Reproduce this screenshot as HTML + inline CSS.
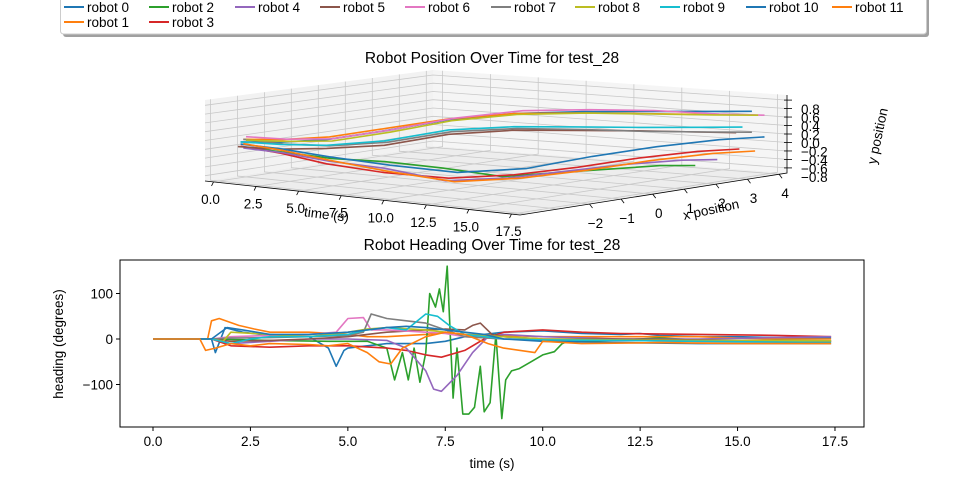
<!DOCTYPE html>
<html><head><meta charset="utf-8">
<style>
html,body{margin:0;padding:0;background:#fff;}
svg{display:block;font-family:"Liberation Sans","DejaVu Sans",sans-serif;}
</style></head>
<body>
<svg id="fig" width="960" height="480" viewBox="0 0 960 480" xmlns="http://www.w3.org/2000/svg">
  <g id="legend"></g>
  <text x="492" y="63" font-size="15.5" text-anchor="middle">Robot Position Over Time for test_28</text>
  <g id="plot3d"></g>
  <text x="492" y="250" font-size="15.5" text-anchor="middle">Robot Heading Over Time for test_28</text>
  <g id="plot2d"></g>
</svg>
<script>
// ---------- shared ----------
const robotNames = ["robot 0","robot 1","robot 2","robot 3","robot 4","robot 5","robot 6","robot 7","robot 8","robot 9","robot 10","robot 11"];
const robotColors = ["#1f77b4","#ff7f0e","#2ca02c","#d62728","#9467bd","#8c564b","#e377c2","#7f7f7f","#bcbd22","#17becf","#1f77b4","#ff7f0e"];

// ---------- heading data ----------
const hT0 = [0,1.5,1.6,1.85,2.3,3,4,4.5,4.7,4.9,5.0,5.5,6,7,7.5,8,8.5,9,10,11,12,12.5,13,14,15,16,17.4];
const hV0 = [0,0,-30,25,15,8,5,-20,-60,-25,-20,-15,-10,-10,-5,5,10,15,18,12,10,12,8,5,5,3,2];
const hT1 = [0,1.4,1.5,1.7,2.2,2.6,3,4,5,5.5,6,7,7.5,8,9,10,12,14,15,16,17.4];
const hV1 = [0,0,40,45,30,22,15,15,10,5,5,10,15,10,8,5,5,5,2,0,0];
const hT2 = [0,1.5,3,4.5,5.5,6.0,6.2,6.4,6.55,6.7,6.85,7.0,7.1,7.25,7.35,7.45,7.55,7.7,7.8,7.95,8.1,8.25,8.4,8.5,8.65,8.8,8.95,9.05,9.2,9.4,9.7,10.0,10.3,10.5,10.7,11,12,13,14,15,16,17.4];
const hV2 = [0,0,-3,-5,-5,-20,-90,-30,-90,-20,-95,-30,100,70,110,60,160,-130,-20,-165,-165,-150,-60,-160,-140,10,-175,-90,-70,-65,-50,-35,-28,-10,-3,-5,-2,2,-2,-5,-3,-4];
const hT3 = [0,1.5,2,3,4,5,6,6.5,7,7.4,8,8.5,9,10,11,12,14,16,17.4];
const hV3 = [0,0,-15,-18,-15,-15,-20,-25,-35,-40,-25,0,15,20,15,12,10,8,5];
const hT4 = [0,1.5,2,3,4,5,6,6.5,7,7.2,7.4,7.8,8.2,8.6,9,10,12,14,16,17.4];
const hV4 = [0,0,-10,-5,0,0,-3,-20,-70,-110,-115,-80,-30,5,10,5,0,0,3,5];
const hT5 = [0,1.5,2,3,4,5,5.5,6,7,7.5,8,8.2,8.4,8.7,9,10,12,14,17.4];
const hV5 = [0,0,-5,-3,0,5,10,15,20,22,20,30,35,10,5,0,0,-2,-5];
const hT6 = [0,1.5,2,3,4,4.7,5,5.4,5.6,6,7,7.5,8,9,10,12,14,16,16.8,17.4];
const hV6 = [0,0,5,8,10,15,45,47,20,20,15,12,5,0,0,-3,-5,-5,-10,-5];
const hT7 = [0,1.5,2,3,4,5,5.4,5.6,6,6.5,7,7.5,8,9,10,12,14,17.4];
const hV7 = [0,0,2,3,5,8,15,55,45,40,35,20,5,0,-2,-3,-5,-5];
const hT8 = [0,1.5,1.8,2,3,4,5,5.5,6,7,7.5,8,9,10,12,14,17.4];
const hV8 = [0,0,-5,15,10,5,15,22,25,20,15,10,5,0,-2,-3,-4];
const hT9 = [0,1.5,2,2.5,3,4,5,5.5,6,6.5,7,7.3,7.6,8,8.5,9,10,12,14,17.4];
const hV9 = [0,0,-10,0,5,5,10,20,25,20,55,50,30,10,5,0,-2,-3,-5,-8];
const hT10 = [0,1.5,1.9,2.3,3,4,5,6,6.5,7,7.5,8,8.5,9,10,12,14,17.4];
const hV10 = [0,0,25,20,10,10,15,25,28,25,20,15,10,0,-5,-8,-10,-10];
const hT11 = [0,1.2,1.35,1.6,2,2.5,3,4,4.5,5,5.5,5.8,6.1,6.4,7,7.5,8,8.6,9,9.8,10,11,13,15,17.4];
const hV11 = [0,0,-25,-20,-10,-15,-10,-12,-15,-10,-30,-50,-55,-20,5,15,10,-10,-20,-30,-5,-10,-8,-10,-10];
const headingTimes = [hT0,hT1,hT2,hT3,hT4,hT5,hT6,hT7,hT8,hT9,hT10,hT11];
const headingVals = [hV0,hV1,hV2,hV3,hV4,hV5,hV6,hV7,hV8,hV9,hV10,hV11];
const headingXTicks = [0,2.5,5,7.5,10,12.5,15,17.5];
const headingXTickLabels = ["0.0","2.5","5.0","7.5","10.0","12.5","15.0","17.5"];
const headingYTicks = [-100,0,100];
const headingYTickLabels = ["\u2212100","0","100"];

// ---------- 3D position data ----------
const posTimes = [0,2,4,6,8,10,12,14,16,17.4];
const pX0 = [-3.2,-3,-2.6,-1.8,-0.8,0.2,1.2,2,2.9,3.5];
const pX1 = [-3.1,-2.9,-2.5,-1.7,-0.8,0.2,1.1,1.9,2.6,3.1];
const pX2 = [-3.0,-2.8,-2.4,-1.8,-1.0,-0.2,0.4,0.9,1.4,1.7];
const pX3 = [-3.2,-3,-2.6,-1.8,-0.8,0.2,1.1,1.9,2.6,3.1];
const pX4 = [-3.1,-2.9,-2.5,-1.8,-0.9,0,0.8,1.5,2.1,2.4];
const pX5 = [-3.3,-3.1,-2.6,-1.8,-0.8,0.2,1.1,1.9,2.6,3.0];
const pX6 = [-3.0,-2.8,-2.4,-1.6,-0.6,0.5,1.5,2.4,3.3,3.9];
const pX7 = [-3.1,-2.9,-2.5,-1.7,-0.7,0.3,1.3,2.1,2.9,3.5];
const pX8 = [-3.0,-2.8,-2.4,-1.6,-0.7,0.3,1.4,2.3,3.1,3.7];
const pX9 = [-3.2,-3,-2.6,-1.8,-0.8,0.2,1.1,1.9,2.7,3.2];
const pX10 = [-3.2,-3,-2.5,-1.6,-0.5,0.6,1.6,2.5,3.3,3.9];
const pX11 = [-3.1,-2.9,-2.4,-1.6,-0.6,0.4,1.4,2.3,3.1,3.6];
const pZ0 = [-0.1,-0.05,0.05,0.25,0.48,0.6,0.62,0.62,0.6,0.59];
const pZ1 = [-0.05,0,0.1,0.3,0.5,0.6,0.6,0.58,0.56,0.55];
const pZ2 = [-0.25,-0.3,-0.4,-0.45,-0.6,-0.8,-0.7,-0.6,-0.5,-0.48];
const pZ3 = [-0.2,-0.3,-0.5,-0.7,-0.85,-0.8,-0.65,-0.45,-0.3,-0.25];
const pZ4 = [-0.25,-0.3,-0.45,-0.6,-0.9,-0.85,-0.7,-0.55,-0.45,-0.42];
const pZ5 = [-0.2,-0.2,-0.15,-0.08,0.15,0.22,0.2,0.18,0.15,0.14];
const pZ6 = [0,0,0.05,0.25,0.5,0.64,0.64,0.6,0.5,0.46];
const pZ7 = [-0.05,-0.1,-0.1,-0.02,0.2,0.25,0.2,0.15,0.12,0.1];
const pZ8 = [-0.08,-0.05,0.0,0.2,0.45,0.57,0.57,0.53,0.5,0.48];
const pZ9 = [-0.1,-0.1,-0.08,0.02,0.25,0.3,0.28,0.26,0.25,0.25];
const pZ10 = [-0.15,-0.2,-0.35,-0.55,-0.75,-0.7,-0.45,-0.25,-0.1,-0.05];
const pZ11 = [-0.15,-0.25,-0.45,-0.7,-0.95,-0.9,-0.75,-0.55,-0.4,-0.35];
const posX = [pX0,pX1,pX2,pX3,pX4,pX5,pX6,pX7,pX8,pX9,pX10,pX11];
const posZ = [pZ0,pZ1,pZ2,pZ3,pZ4,pZ5,pZ6,pZ7,pZ8,pZ9,pZ10,pZ11];
const tTicks = [0,2.5,5,7.5,10,12.5,15,17.5];
const tTickLabels = ["0.0","2.5","5.0","7.5","10.0","12.5","15.0","17.5"];
const xTicks = [-2,-1,0,1,2,3,4];
const xTickLabels = ["\u22122","\u22121","0","1","2","3","4"];
const xGrid = [-4,-3,-2,-1,0,1,2,3,4];
const zTicks = [-0.8,-0.6,-0.4,-0.2,0,0.2,0.4,0.6,0.8];
const zTickLabels = ["\u22120.8","\u22120.6","\u22120.4","\u22120.2","0.0","0.2","0.4","0.6","0.8"];

const NS = "http://www.w3.org/2000/svg";
function mk(tag, attrs, parent, txt){
  const e = document.createElementNS(NS, tag);
  for (const k in attrs) e.setAttribute(k, attrs[k]);
  if (txt !== undefined) e.textContent = txt;
  parent.appendChild(e);
  return e;
}

// ---------- legend ----------
(function(){
  const g = document.getElementById('legend');
  const sh = mk('rect',{x:63,y:-6,width:866,height:43,rx:3,fill:'#a0a0a0'},g);
  
  
  const box = mk('rect',{x:60.5,y:-8,width:866,height:42,rx:3,fill:'#fff',stroke:'#cccccc'},g);
  
  
  const colX = [64,149,235,320,405,491,575,660,746,832];
  const order = [[0,0],[2,1],[4,2],[5,3],[6,4],[7,5],[8,6],[9,7],[10,8],[11,9],[1,0],[3,1]];
  order.forEach((o,i)=>{
    const r = o[0], c = o[1], row = i<10?0:1;
    const y = row===0?7:22;
    const eg = mk('g',{},g);
    
    
    mk('line',{x1:colX[c],x2:colX[c]+20,y1:y,y2:y,stroke:robotColors[r],'stroke-width':2},eg);
    mk('text',{x:colX[c]+23,y:y+5,'font-size':13.5,fill:'#000'},eg,robotNames[r]);
  });
})();

// ---------- 3D plot ----------
(function(){
  const g = document.getElementById('plot3d');
  const T0=-0.5,T1=18.0,X0=-4.2,X1=4.25,Z0=-0.92,Z1=0.92;
  const A=[205,181],B=[520,215],C=[787,173],D=[433,146];
  const hA=81,hB=86,hC=78,hD=76;
  function P(t,x,z){
    const u=(t-T0)/(T1-T0), v=(x-X0)/(X1-X0);
    const sx=(1-u)*(1-v)*A[0]+u*(1-v)*B[0]+u*v*C[0]+(1-u)*v*D[0];
    const sy=(1-u)*(1-v)*A[1]+u*(1-v)*B[1]+u*v*C[1]+(1-u)*v*D[1];
    const h=(1-u)*(1-v)*hA+u*(1-v)*hB+u*v*hC+(1-u)*v*hD;
    return [sx, sy-(z-Z0)/(Z1-Z0)*h];
  }
  function pts(arr){return arr.map(p=>p[0].toFixed(1)+','+p[1].toFixed(1)).join(' ');}
  const floor = mk('polygon',{points:pts([P(T0,X0,Z0),P(T1,X0,Z0),P(T1,X1,Z0),P(T0,X1,Z0)]),fill:'#ededed'},g);
  
  
  const lw = mk('polygon',{points:pts([P(T0,X0,Z0),P(T0,X1,Z0),P(T0,X1,Z1),P(T0,X0,Z1)]),fill:'#f2f2f2'},g);
  
  
  const rw = mk('polygon',{points:pts([P(T0,X1,Z0),P(T1,X1,Z0),P(T1,X1,Z1),P(T0,X1,Z1)]),fill:'#f5f5f5'},g);
  
  
  const grid = mk('g',{stroke:'#c8c8c8','stroke-width':0.8,fill:'none'},g);
  
  
  tTicks.forEach(t=>{
    mk('polyline',{points:pts([P(t,X0,Z0),P(t,X1,Z0),P(t,X1,Z1)])},grid);
  });
  xGrid.forEach(x=>{
    mk('polyline',{points:pts([P(T1,x,Z0),P(T0,x,Z0),P(T0,x,Z1)])},grid);
  });
  zTicks.forEach(z=>{
    mk('polyline',{points:pts([P(T0,X0,z),P(T0,X1,z),P(T1,X1,z)])},grid);
  });
  const ax = mk('g',{stroke:'#000','stroke-width':0.8,fill:'none'},g);
  
  
  mk('polyline',{points:pts([P(T0,X0,Z0),P(T1,X0,Z0),P(T1,X1,Z0),P(T1,X1,Z1)])},ax);
  tTicks.forEach((t,i)=>{
    const p=P(t,X0,Z0);
    mk('line',{x1:p[0],y1:p[1],x2:p[0]-2,y2:p[1]+4},ax);
    const lab = mk('text',{x:p[0]-3,y:p[1]+22,'font-size':13.5,'text-anchor':'middle',fill:'#000',stroke:'none'},g,tTickLabels[i]);
    
    
  });
  xTicks.forEach((x,i)=>{
    const p=P(T1,x,Z0);
    mk('line',{x1:p[0],y1:p[1],x2:p[0]+3,y2:p[1]+4},ax);
    const lab = mk('text',{x:p[0]+6,y:p[1]+24,'font-size':13.5,'text-anchor':'middle',fill:'#000',stroke:'none'},g,xTickLabels[i]);
    
    
  });
  zTicks.forEach((z,i)=>{
    const p=P(T1,X1,z);
    mk('line',{x1:p[0]-3,y1:p[1],x2:p[0]+5,y2:p[1]},ax);
    const lab = mk('text',{x:p[0]+14,y:p[1]+14,'font-size':13.5,'text-anchor':'start',fill:'#000',stroke:'none'},g,zTickLabels[i]);
    
    
  });
  const tl = mk('text',{x:0,y:0,'font-size':13.5,'text-anchor':'middle',transform:'translate(326,219) rotate(7)'},g,'time (s)');
  
  
  const xl = mk('text',{x:0,y:0,'font-size':13.5,'text-anchor':'middle',transform:'translate(712,214) rotate(-12)'},g,'x position');
  
  
  const yl = mk('text',{x:0,y:0,'font-size':13.5,'text-anchor':'middle',transform:'translate(882,137) rotate(-78)'},g,'y position');
  
  
  posX.forEach((xs,r)=>{
    const p = posTimes.map((t,i)=>P(t,xs[i],posZ[r][i]));
    const pl = mk('polyline',{points:pts(p),fill:'none',stroke:robotColors[r],'stroke-width':1.6,'stroke-linejoin':'round'},g);
    
    
  });
})();

// ---------- 2D heading plot ----------
(function(){
  const g = document.getElementById('plot2d');
  const L=120,R=864,T=260,Bt=427;
  const xs = t => 153 + t*38.97;
  const ys = v => 339 - v*0.455;
  const clip = mk('clipPath',{id:'hclip'},g);
  mk('rect',{x:L,y:T,width:R-L,height:Bt-T},clip);
  const sg = mk('g',{'clip-path':'url(#hclip)'},g);
  headingTimes.forEach((ts,r)=>{
    const p = ts.map((t,i)=>xs(t).toFixed(1)+','+ys(headingVals[r][i]).toFixed(1)).join(' ');
    const pl = mk('polyline',{points:p,fill:'none',stroke:robotColors[r],'stroke-width':1.6,'stroke-linejoin':'round'},sg);
    
    
  });
  const frame = mk('rect',{x:L,y:T,width:R-L,height:Bt-T,fill:'none',stroke:'#000','stroke-width':1},g);
  
  
  headingXTicks.forEach((t,i)=>{
    mk('line',{x1:xs(t),x2:xs(t),y1:Bt,y2:Bt+4,stroke:'#000'},g);
    const lab = mk('text',{x:xs(t),y:Bt+19,'font-size':13.5,'text-anchor':'middle'},g,headingXTickLabels[i]);
    
    
  });
  headingYTicks.forEach((v,i)=>{
    mk('line',{x1:L-4,x2:L,y1:ys(v),y2:ys(v),stroke:'#000'},g);
    const lab = mk('text',{x:L-7,y:ys(v)+5,'font-size':13.5,'text-anchor':'end'},g,headingYTickLabels[i]);
    
    
  });
  const xt = mk('text',{x:492,y:468,'font-size':13.5,'text-anchor':'middle'},g,'time (s)');
  
  
  const yt = mk('text',{x:0,y:0,'font-size':13.5,'text-anchor':'middle',transform:'translate(63,344) rotate(-90)'},g,'heading (degrees)');
  
  
})();
</script>
</body></html>
